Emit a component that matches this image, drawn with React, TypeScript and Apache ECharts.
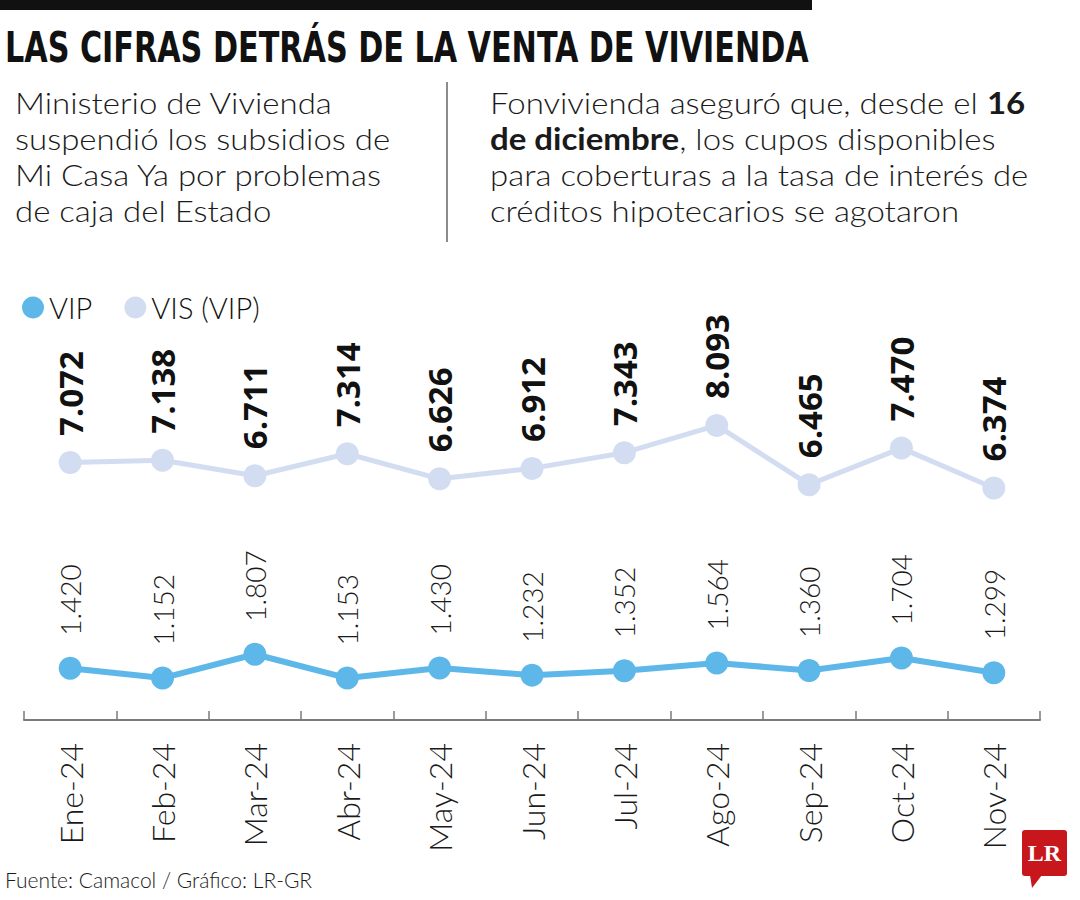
import React, { useEffect, useRef } from "react";
import * as echarts from "echarts";

const categories = ["Ene-24", "Feb-24", "Mar-24", "Abr-24", "May-24", "Jun-24", "Jul-24", "Ago-24", "Sep-24", "Oct-24", "Nov-24"];
const vipValues = [1420, 1152, 1807, 1153, 1430, 1232, 1352, 1564, 1360, 1704, 1299];
const visValues = [7072, 7138, 6711, 7314, 6626, 6912, 7343, 8093, 6465, 7470, 6374];
const seriesNames = ["VIP", "VIS (VIP)"];

const titleText = "LAS CIFRAS DETRÁS DE LA VENTA DE VIVIENDA";
const leftText = "Ministerio de Vivienda\nsuspendió los subsidios de\nMi Casa Ya por problemas\nde caja del Estado";
const rightText =
  "Fonvivienda aseguró que, desde el {b|16}\n{b|de diciembre}, los cupos disponibles\npara coberturas a la tasa de interés de\ncréditos hipotecarios se agotaron";
const sourceText = "Fuente: Camacol / Gráfico: LR-GR";

const LIGHT = "Lato, 'Open Sans', sans-serif";
const BOLD = "'Open Sans', 'Noto Sans', sans-serif";
const fmt = (v: number) => String(v).replace(/\B(?=(\d{3})+(?!\d))/g, ".");

export default function App() {
  const ref = useRef<HTMLDivElement>(null);
  useEffect(() => {
    if (!ref.current) return;
    const chart = echarts.init(ref.current, null, { renderer: "svg" });
    chart.setOption({
      animation: false,
      backgroundColor: "#ffffff",
      legend: {
        data: seriesNames,
        left: 17,
        top: 288,
        icon: "circle",
        itemWidth: 22,
        itemHeight: 22,
        itemGap: 32,
        textStyle: { fontFamily: LIGHT, fontWeight: 300, fontSize: 29, color: "#111" },
      },
      grid: { left: 24, right: 40, top: 356, bottom: 180 },
      xAxis: {
        type: "category",
        data: categories,
        boundaryGap: true,
        axisLine: { lineStyle: { color: "#7a7a7a", width: 2 } },
        axisTick: { show: true, inside: true, length: 9, interval: 0, lineStyle: { color: "#7a7a7a", width: 1.5 } },
        axisLabel: {
          rotate: 90,
          interval: 0,
          margin: 23,
          fontFamily: LIGHT,
          fontWeight: 300,
          fontSize: 32,
          color: "#1a1a1a",
        },
      },
      yAxis: { type: "value", min: 0, max: 10000, show: false, splitLine: { show: false } },
      series: [
        {
          name: seriesNames[0],
          type: "line",
          data: vipValues,
          color: "#5db8e9",
          symbol: "circle",
          symbolSize: 23,
          lineStyle: { width: 6, color: "#5db8e9" },
          itemStyle: { color: "#5db8e9" },
          label: {
            show: true,
            position: "top",
            rotate: 90,
            align: "left",
            verticalAlign: "middle",
            distance: 21,
            formatter: (p: any) => fmt(p.value),
            fontFamily: LIGHT,
            fontWeight: 300,
            fontSize: 28,
            color: "#1a1a1a",
          },
        },
        {
          name: seriesNames[1],
          type: "line",
          data: visValues,
          color: "#d3ddf1",
          symbol: "circle",
          symbolSize: 23,
          lineStyle: { width: 5, color: "#d3ddf1" },
          itemStyle: { color: "#d3ddf1" },
          label: {
            show: true,
            position: "top",
            rotate: 90,
            align: "left",
            verticalAlign: "middle",
            distance: 15,
            formatter: (p: any) => fmt(p.value),
            fontFamily: BOLD,
            fontWeight: "bold",
            fontSize: 33,
            color: "#111",
          },
        },
      ],
      graphic: [
        { type: "rect", shape: { x: 0, y: 0, width: 812, height: 10 }, style: { fill: "#111" } },
        {
          type: "text",
          x: 5,
          y: 27,
          scaleX: 0.8,
          style: {
            text: titleText,
            fontFamily: "'Liberation Sans Narrow', 'DejaVu Sans Condensed', sans-serif",
            fontWeight: "bold",
            fontSize: 42,
            fill: "#111",
          },
        },
        {
          type: "text",
          x: 15,
          y: 85,
          scaleX: 1.1,
          style: {
            text: leftText,
            fontFamily: LIGHT,
            fontWeight: 300,
            fontSize: 30,
            lineHeight: 36,
            fill: "#1a1a1a",
          },
        },
        { type: "line", shape: { x1: 447, y1: 82, x2: 447, y2: 242 }, style: { stroke: "#666", lineWidth: 1.5 } },
        {
          type: "text",
          x: 490,
          y: 85,
          scaleX: 1.1,
          style: {
            text: rightText,
            fontFamily: LIGHT,
            fontWeight: 300,
            fontSize: 30,
            lineHeight: 36,
            fill: "#1a1a1a",
            rich: {
              b: { fontFamily: LIGHT, fontWeight: "bold", fontSize: 30, lineHeight: 36, fill: "#1a1a1a" },
            },
          },
        },
        {
          type: "text",
          x: 5,
          y: 869,
          style: { text: sourceText, fontFamily: LIGHT, fontWeight: 300, fontSize: 21, fill: "#1a1a1a" },
        },
        {
          type: "group",
          x: 1022,
          y: 830,
          children: [
            { type: "rect", shape: { x: 0, y: 0, width: 45, height: 46, r: 3 }, style: { fill: "#c8161d" } },
            { type: "polygon", shape: { points: [[8, 45], [20, 45], [10, 58]] }, style: { fill: "#c8161d" } },
            {
              type: "text",
              x: 22.5,
              y: 23,
              style: {
                text: "LR",
                fontFamily: "'Liberation Serif', 'DejaVu Serif', serif",
                fontWeight: "bold",
                fontSize: 24,
                fill: "#ffffff",
                align: "center",
                verticalAlign: "middle",
              },
            },
          ],
        },
      ],
    });
    return () => chart.dispose();
  }, []);
  return <div ref={ref} style={{ position: "absolute", left: 0, top: 0, width: 1080, height: 900 }} />;
}
